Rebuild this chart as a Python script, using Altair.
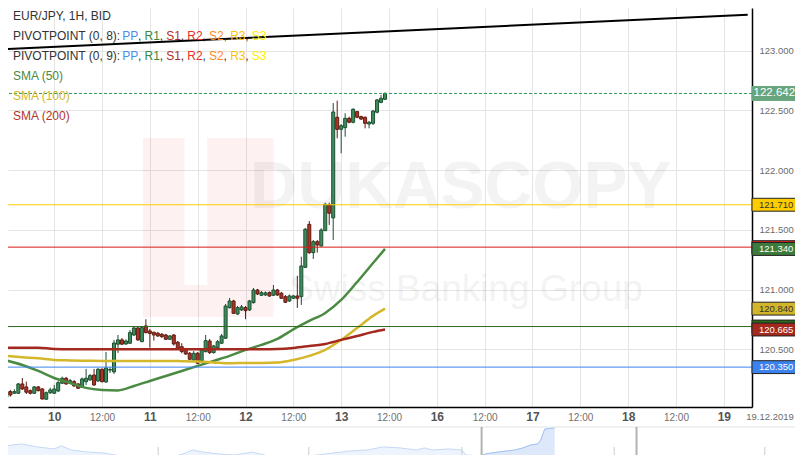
import altair as alt
import pandas as pd

FONT = "Liberation Sans, Arial, Helvetica, sans-serif"

# ---------------- texts / tick labels ----------------
SYMBOL = "EUR/JPY, 1H, BID"
PIVOT_SETS = ["PIVOTPOINT (0, 8): ", "PIVOTPOINT (0, 9): "]
PIVOT_NAMES = ["PP", "R1", "S1", "R2", "S2", "R3", "S3"]
SMA_NAMES = ["SMA (50)", "SMA (100)", "SMA (200)"]
DAY_LABELS = ["10", "11", "12", "13", "16", "17", "18", "19"]
HALF_DAY_LABEL = "12:00"
DATE_LABEL = "19.12.2019"
X_TICKS = list(range(12, 181, 12))          # hour index, 0 = 09.12 12:00
Y_TICKS = [120.5, 121.0, 121.5, 122.0, 122.5, 123.0]

# ---------------- hourly candles (09.12 12:00 .. 13.12 11:00) ----------------
OPEN = [120.098, 120.145, 120.131, 120.131, 120.209, 120.184, 120.153, 120.131, 120.184, 120.167,
        120.081, 120.136, 120.131, 120.150, 120.215, 120.257, 120.220, 120.228, 120.209, 120.181,
        120.228, 120.243, 120.284, 120.234, 120.332, 120.226, 120.325, 120.310, 120.542, 120.578,
        120.544, 120.550, 120.619, 120.678, 120.563, 120.695, 120.653, 120.642, 120.634, 120.625,
        120.619, 120.583, 120.619, 120.558, 120.521, 120.502, 120.466, 120.410, 120.466, 120.402,
        120.480, 120.569, 120.471, 120.513, 120.550, 120.592, 120.848, 120.904, 120.795, 120.829,
        120.848, 120.829, 120.890, 120.996, 120.952, 120.955, 120.974, 120.952, 120.996, 120.969,
        120.940, 120.904, 120.927, 120.946, 120.940, 121.186, 121.546, 121.309, 121.401, 121.365,
        121.493, 121.708, 121.600, 122.443, 122.342, 122.356, 122.434, 122.401, 122.490, 122.448,
        122.443, 122.386, 122.392, 122.485, 122.568, 122.593]
HIGH = [120.155, 120.159, 120.165, 120.217, 120.259, 120.228, 120.163, 120.192, 120.192, 120.175,
        120.146, 120.178, 120.201, 120.234, 120.270, 120.268, 120.251, 120.242, 120.217, 120.263,
        120.335, 120.293, 120.335, 120.343, 120.339, 120.477, 120.351, 120.578, 120.619, 120.594,
        120.582, 120.661, 120.695, 120.686, 120.695, 120.751, 120.670, 120.647, 120.645, 120.636,
        120.628, 120.619, 120.628, 120.569, 120.550, 120.511, 120.477, 120.485, 120.477, 120.502,
        120.619, 120.586, 120.536, 120.577, 120.628, 120.879, 120.929, 120.913, 120.862, 120.871,
        120.862, 120.913, 121.013, 121.005, 120.988, 120.984, 120.984, 121.038, 121.005, 120.980,
        120.954, 120.959, 120.954, 121.114, 121.275, 121.516, 121.574, 121.415, 121.415, 121.513,
        121.727, 121.727, 122.562, 122.582, 122.386, 122.476, 122.448, 122.518, 122.495, 122.456,
        122.448, 122.412, 122.504, 122.596, 122.629, 122.652]
LOW = [120.088, 120.103, 120.125, 120.125, 120.159, 120.125, 120.121, 120.125, 120.146, 120.079,
       120.075, 120.125, 120.125, 120.142, 120.209, 120.201, 120.209, 120.184, 120.167, 120.175,
       120.201, 120.234, 120.192, 120.226, 120.222, 120.217, 120.301, 120.293, 120.469, 120.536,
       120.536, 120.544, 120.611, 120.569, 120.561, 120.632, 120.513, 120.572, 120.603, 120.594,
       120.577, 120.577, 120.531, 120.502, 120.466, 120.452, 120.410, 120.402, 120.376, 120.393,
       120.473, 120.460, 120.464, 120.506, 120.544, 120.586, 120.841, 120.795, 120.787, 120.820,
       120.751, 120.820, 120.883, 120.954, 120.946, 120.946, 120.938, 120.946, 120.946, 120.921,
       120.887, 120.896, 120.921, 120.846, 120.871, 121.181, 121.298, 121.256, 121.309, 121.359,
       121.490, 121.541, 121.415, 122.267, 122.141, 122.280, 122.392, 122.392, 122.434, 122.420,
       122.350, 122.350, 122.378, 122.476, 122.560, 122.588]
CLOSE = [120.145, 120.117, 120.145, 120.209, 120.167, 120.140, 120.131, 120.184, 120.153, 120.083,
         120.136, 120.159, 120.167, 120.220, 120.257, 120.209, 120.237, 120.192, 120.173, 120.251,
         120.257, 120.279, 120.201, 120.332, 120.228, 120.343, 120.330, 120.552, 120.578, 120.542,
         120.569, 120.639, 120.678, 120.578, 120.681, 120.639, 120.632, 120.619, 120.611, 120.605,
         120.583, 120.611, 120.544, 120.508, 120.480, 120.460, 120.416, 120.466, 120.382, 120.494,
         120.572, 120.471, 120.527, 120.563, 120.611, 120.862, 120.904, 120.801, 120.848, 120.854,
         120.823, 120.904, 120.996, 120.963, 120.974, 120.972, 120.946, 120.996, 120.954, 120.927,
         120.893, 120.946, 120.946, 120.927, 121.197, 121.505, 121.309, 121.401, 121.373, 121.499,
         121.714, 121.639, 122.487, 122.342, 122.372, 122.434, 122.401, 122.510, 122.443, 122.428,
         122.392, 122.401, 122.495, 122.588, 122.602, 122.642]

# ---------------- moving averages (sampled) ----------------
SMA_IDX = [0, 4, 8, 12, 16, 20, 24, 28, 32, 36, 40, 44, 48, 52, 56, 60, 64, 68, 72, 76, 80, 84, 88, 92, 95]
SMA50 = [120.406, 120.368, 120.318, 120.259, 120.217, 120.176, 120.159, 120.155, 120.192, 120.234,
         120.276, 120.318, 120.360, 120.402, 120.444, 120.494, 120.536, 120.586, 120.666, 120.737,
         120.804, 120.913, 121.063, 121.222, 121.340]
SMA100 = [120.444, 120.433, 120.424, 120.410, 120.406, 120.404, 120.402, 120.402, 120.402, 120.402,
          120.402, 120.400, 120.397, 120.389, 120.382, 120.385, 120.385, 120.389, 120.410, 120.444,
          120.494, 120.578, 120.678, 120.779, 120.840]
SMA200 = [120.513, 120.513, 120.513, 120.502, 120.500, 120.500, 120.500, 120.500, 120.500, 120.500,
          120.500, 120.500, 120.500, 120.500, 120.500, 120.500, 120.500, 120.502, 120.511, 120.527,
          120.544, 120.578, 120.611, 120.645, 120.665]

# ---------------- levels ----------------
LEVEL_NAMES = ["R3", "R2", "R1", "PP"]
LEVEL_VALUES = [121.710, 121.355, 120.690, 120.350]
LAST_PRICE = 122.642
TREND_IDX = [0, 186]
TREND_PRICE = [123.014, 123.302]

# ---------------- watermark ----------------
WATERMARK_TEXT = ["DUKASCOPY", "Swiss Banking Group"]
WATERMARK_IDX = [114.0, 115.3]
WATERMARK_PRICE = [121.850, 120.996]
LOGO_IDX0 = [34.3, 50.4, 44.7]
LOGO_IDX1 = [44.7, 67.0, 50.4]
LOGO_P0 = [120.770, 120.770, 120.770]
LOGO_P1 = [122.269, 122.269, 121.038]

# ---------------- navigator (hours rel. to 09.12 12:00, price) ----------------
NAV_T = [-573, -553, -534, -514, -505, -493.5, -474.5, -454.4, -434.2, -415.3, -395.1, -386.8, -375,
         -356, -347.7, -335.8, -315.6, -296.7, -276.5, -256.4, -237.4, -217.3, -197.1, -178.1, -158,
         -137.8, -118.9, -98.7, -78.5, -69, -59.6, -39.4, -24, -19.3, -1.5, 4.4, 19.8, 40, 49.5, 59,
         67.3, 70.8, 75.6, 87.4]
NAV_P = [120.93, 121.12, 120.83, 120.64, 120.93, 120.54, 120.35, 120.26, 119.97, 119.88, 119.59,
         119.40, 119.78, 120.26, 120.54, 120.35, 120.16, 120.07, 120.35, 119.97, 119.78, 119.88,
         120.07, 120.26, 120.45, 120.54, 120.83, 120.74, 120.54, 120.74, 120.54, 120.64, 120.54,
         120.07, 119.97, 120.16, 120.35, 120.54, 120.74, 121.02, 121.12, 121.50, 122.54, 122.64]
NAV_WINDOW = [-0.32, 185.82]
NAV_TICKS = [-389, -208, -24, 159, 340]
NAV_SPAN = [-573, 379]
NAV_PRICE_RANGE = [118.93, 122.64]

# ---------------- scales & axes ----------------
X_DOMAIN = [1.66, 185.82]
Y_DOMAIN = [120.016, 123.358]
XS = alt.Scale(domain=X_DOMAIN, nice=False, zero=False)
YS = alt.Scale(domain=Y_DOMAIN, nice=False, zero=False)
PX_PER_H = 4.04            # main chart pixels per hour
PX_PER_P = 119.4           # main chart pixels per price unit

day_arr = "[" + ",".join("'%s'" % d for d in DAY_LABELS) + "]"
label_expr = "datum.value % 24 == 0 ? '" + HALF_DAY_LABEL + "' : " + day_arr + "[floor(datum.value / 24)]"
is_day = "datum.value % 24 == 12"

x_axis = alt.Axis(
    orient="bottom", values=X_TICKS, labelExpr=label_expr, title=None,
    grid=True, gridColor="#e4e4e4", gridWidth=1,
    domainColor="#000000", domainWidth=1.5, ticks=False,
    labelPadding=13, labelBaseline="alphabetic", labelFont=FONT,
    labelFontSize={"condition": {"test": is_day, "value": 12}, "value": 10},
    labelFontWeight={"condition": {"test": is_day, "value": "bold"}, "value": "normal"},
    labelColor={"condition": {"test": is_day, "value": "#555555"}, "value": "#707070"},
    labelFlush=False, labelOverlap=False,
)
y_axis = alt.Axis(
    orient="right", values=Y_TICKS, format=".3f", title=None,
    grid=True, gridColor="#e4e4e4", gridWidth=1,
    domainColor="#000000", domainWidth=1.5, ticks=False,
    labelPadding=7, labelFont=FONT, labelFontSize=9.5, labelColor="#6b6b6b",
    labelFlush=False, labelOverlap=False,
)


def X(field):
    return alt.X(field, scale=XS, axis=x_axis)


def Y(field):
    return alt.Y(field, scale=YS, axis=y_axis)


# helpers converting pixel offsets (from plot origin) into data units
def px_to_i(expr):
    return f"{X_DOMAIN[0]} + ({expr}) / {PX_PER_H}"


def py_to_p(expr):
    return f"{Y_DOMAIN[1]} - ({expr}) / {PX_PER_P}"


# ---------------- watermark ----------------
logo_df = pd.DataFrame({"a": LOGO_IDX0, "b": LOGO_IDX1, "p0": LOGO_P0, "p1": LOGO_P1})
logo = alt.Chart(logo_df).mark_rect(color="#e53935", opacity=0.07, clip=True).encode(
    x=X("a:Q"), x2="b:Q", y=Y("p0:Q"), y2="p1:Q")

wm_df = pd.DataFrame({"t": WATERMARK_TEXT, "i": WATERMARK_IDX, "p": WATERMARK_PRICE})
wm1 = alt.Chart(wm_df).transform_filter(alt.datum.t == WATERMARK_TEXT[0]).mark_text(
    font=FONT, fontSize=66, fontWeight="bold", color="#000000", opacity=0.045, baseline="middle"
).encode(x=X("i:Q"), y=Y("p:Q"), text="t:N")
wm2 = alt.Chart(wm_df).transform_filter(alt.datum.t == WATERMARK_TEXT[1]).mark_text(
    font=FONT, fontSize=37, color="#000000", opacity=0.045, baseline="middle"
).encode(x=X("i:Q"), y=Y("p:Q"), text="t:N")

# ---------------- candles ----------------
cdf = pd.DataFrame({"i": list(range(len(OPEN))), "open": OPEN, "high": HIGH, "low": LOW, "close": CLOSE})
up = alt.datum.close >= alt.datum.open
dark = alt.when(up).then(alt.value("#1d4f31")).otherwise(alt.value("#5e1b12"))
fill = alt.when(up).then(alt.value("#3f8d5c")).otherwise(alt.value("#ad3426"))

wicks = alt.Chart(cdf).mark_rule(strokeWidth=1, clip=True).encode(
    x=X("i:Q"), y=Y("low:Q"), y2="high:Q", color=dark)
bodies = alt.Chart(cdf).mark_bar(width=3, strokeWidth=1, clip=True).encode(
    x=X("i:Q"), y=Y("open:Q"), y2="close:Q", fill=fill, stroke=dark)


# ---------------- SMAs ----------------
def sma_layer(values, color):
    d = pd.DataFrame({"i": SMA_IDX, "v": values})
    return alt.Chart(d).mark_line(color=color, strokeWidth=2.5, interpolate="monotone", clip=True).encode(
        x=X("i:Q"), y=Y("v:Q"))


sma50 = sma_layer(SMA50, "#4b8a42")
sma100 = sma_layer(SMA100, "#d4b72a")
sma200 = sma_layer(SMA200, "#a3291e")

# ---------------- level lines ----------------
LEVEL_COLORS = ["#ffcc00", "#d81b16", "#2c6b1f", "#3d85f0"]
lv_df = pd.DataFrame({"name": LEVEL_NAMES, "v": LEVEL_VALUES})
levels = alt.Chart(lv_df).mark_rule(strokeWidth=1).encode(
    y=Y("v:Q"),
    color=alt.Color("name:N", scale=alt.Scale(domain=LEVEL_NAMES, range=LEVEL_COLORS), legend=None))
price_rule = alt.Chart(pd.DataFrame({"v": [LAST_PRICE]})).mark_rule(
    strokeWidth=1, strokeDash=[3, 2], color="#2f9e5c").encode(y=Y("v:Q"))

trend = alt.Chart(pd.DataFrame({"i": TREND_IDX, "p": TREND_PRICE})).mark_line(
    color="#000000", strokeWidth=2, clip=True).encode(x=X("i:Q"), y=Y("p:Q"))

# ---------------- legend (top-left) ----------------
W = {"P": 667, "I": 278, "V": 667, "O": 778, "T": 611, "N": 722, " ": 278, "(": 333, ")": 333,
     "0": 556, ",": 278, "8": 556, "9": 556, ":": 278, "R": 722, "S": 667, "1": 556, "2": 556, "3": 556}


def tw(s, size=12):
    return sum(W.get(c, 556) for c in s) * size / 1000.0


rows = [{"txt": SYMBOL, "key": "text", "px": 0.0, "py": 12.0}]
for k, prefix in enumerate(PIVOT_SETS):
    yy = 32.0 + 20 * k
    xx = 0.0
    rows.append({"txt": prefix, "key": "text", "px": xx, "py": yy})
    xx += tw(prefix)
    for j, nm in enumerate(PIVOT_NAMES):
        rows.append({"txt": nm, "key": nm, "px": xx, "py": yy})
        xx += tw(nm)
        if j < len(PIVOT_NAMES) - 1:
            rows.append({"txt": ",", "key": "text", "px": xx, "py": yy})
            xx += tw(", ")
for k, nm in enumerate(SMA_NAMES):
    rows.append({"txt": nm, "key": nm, "px": 0.0, "py": 72.0 + 20 * k})
leg_df = pd.DataFrame(rows)
LEG_KEYS = ["text"] + PIVOT_NAMES + SMA_NAMES
LEG_COLORS = ["#333333", "#4a8ef0", "#3a8a3a", "#b02e2a", "#e8302c", "#ff8c28", "#ffc400", "#ffee00",
              "#4b8a42", "#d4b72a", "#b0352b"]
legend = alt.Chart(leg_df).transform_calculate(
    li=px_to_i("datum.px"), lp=py_to_p("datum.py")
).mark_text(font=FONT, fontSize=12, align="left", baseline="alphabetic").encode(
    x=X("li:Q"), y=Y("lp:Q"), text="txt:N",
    color=alt.Color("key:N", scale=alt.Scale(domain=LEG_KEYS, range=LEG_COLORS), legend=None))

# ---------------- axis value boxes ----------------
BOX_KEYS = ["R3", "R2", "R1", "PP", "SMA50", "SMA100", "SMA200", "LAST"]
BOX_FILLS = ["#ffcc00", "#e0201b", "#2c6b1f", "#3b82ee", "#3c7b3c", "#d2b52b", "#a3291e", "#67a57e"]
BOX_TEXTC = ["#333333", "#ffffff", "#ffffff", "#ffffff", "#ffffff", "#333333", "#ffffff", "#ffffff"]


def box_layers(keys, values, half, size, tx, stroke, show_text):
    d = pd.DataFrame({"key": keys, "v": values})
    d["label"] = [f"{v:.3f}" for v in values]
    base = alt.Chart(d).transform_calculate(top=f"datum.v + {half}", bot=f"datum.v - {half}")
    rect = base.mark_rect(strokeWidth=1, stroke=stroke).encode(
        x=alt.value(744), x2=alt.value(800), y=Y("top:Q"), y2="bot:Q",
        fill=alt.Fill("key:N", scale=alt.Scale(domain=BOX_KEYS, range=BOX_FILLS), legend=None))
    txt = base.transform_filter(alt.FieldOneOfPredicate(field="key", oneOf=show_text)).mark_text(
        font=FONT, fontSize=size, align="left", baseline="middle").encode(
        x=alt.value(tx), y=Y("v:Q"), text="label:N",
        color=alt.Color("key:N", scale=alt.Scale(domain=BOX_KEYS, range=BOX_TEXTC), legend=None))
    return [rect, txt]


# R2 / R1 labels sit underneath the SMA labels, as in the reference
piv_boxes = box_layers(LEVEL_NAMES, LEVEL_VALUES, 0.054, 9.5, 751, "#222222", ["R3", "PP"])
sma_boxes = box_layers(["SMA50", "SMA100", "SMA200"], [SMA50[-1], SMA100[-1], SMA200[-1]], 0.054, 9.5,
                       751, "#222222", ["SMA50", "SMA100", "SMA200"])
last_boxes = box_layers(["LAST"], [LAST_PRICE], 0.058, 11.5, 745.5, "#67a57e", ["LAST"])

date_lbl = alt.Chart(pd.DataFrame({"t": [DATE_LABEL]})).mark_text(
    font=FONT, fontSize=9.5, color="#6b6b6b", align="center", baseline="alphabetic").encode(
    x=alt.value(762), y=alt.value(412), text="t:N")

# ---------------- navigator (mapped below the plot) ----------------
NAV_X0_PX, NAV_PX_PER_H = 475.0, 0.8435
NAV_Y0_PX, NAV_PX_PER_P = 420.0, 10.5


def nav_i(expr):
    return px_to_i(f"{NAV_X0_PX} + (({expr}) - ({NAV_WINDOW[0]})) * {NAV_PX_PER_H}")


def nav_p(expr):
    return py_to_p(f"{NAV_Y0_PX} + ({NAV_PRICE_RANGE[1]} - ({expr})) * {NAV_PX_PER_P}")


nav_df = pd.DataFrame({"t": NAV_T, "p": NAV_P})
nav_base = alt.Chart(nav_df).transform_calculate(
    ni=nav_i("datum.t"), np_=nav_p("datum.p"), nb=nav_p(str(NAV_PRICE_RANGE[0])))
sel = alt.datum.t >= NAV_WINDOW[0] - 1.5
nav_area = nav_base.mark_area(color="#eef4fd", clip=False).encode(x=X("ni:Q"), y=Y("np_:Q"), y2="nb:Q")
nav_line = nav_base.mark_line(color="#c6d9f6", strokeWidth=1, clip=False).encode(x=X("ni:Q"), y=Y("np_:Q"))
nav_area2 = nav_base.transform_filter(sel).mark_area(color="#dde8fb", clip=False).encode(
    x=X("ni:Q"), y=Y("np_:Q"), y2="nb:Q")
nav_line2 = nav_base.transform_filter(sel).mark_line(color="#a6c2f1", strokeWidth=1, clip=False).encode(
    x=X("ni:Q"), y=Y("np_:Q"))

nav_top = alt.Chart(pd.DataFrame({"a": [NAV_SPAN[0]], "b": [NAV_SPAN[1]]})).transform_calculate(
    ai=nav_i("datum.a"), bi=nav_i("datum.b"), yp=nav_p(str(NAV_PRICE_RANGE[1] + 0.095))
).mark_rule(color="#e3e3e3", strokeWidth=1, clip=False).encode(x=X("ai:Q"), x2="bi:Q", y=Y("yp:Q"))

nav_ticks = alt.Chart(pd.DataFrame({"t": NAV_TICKS})).transform_calculate(
    ti=nav_i("datum.t"), y0=nav_p("120.83"), y1=nav_p(str(NAV_PRICE_RANGE[0]))
).mark_rule(color="#cccccc", strokeWidth=1, clip=False).encode(x=X("ti:Q"), y=Y("y0:Q"), y2="y1:Q")

nav_handles = alt.Chart(pd.DataFrame({"t": NAV_WINDOW})).transform_calculate(
    ti=nav_i("datum.t"), y0=nav_p(str(NAV_PRICE_RANGE[1] + 0.095)), y1=nav_p(str(NAV_PRICE_RANGE[0]))
).mark_rule(color="#b3b3b3", strokeWidth=2, clip=False).encode(x=X("ti:Q"), y=Y("y0:Q"), y2="y1:Q")

chart = alt.layer(
    logo, wm1, wm2, wicks, bodies, sma50, sma100, sma200, levels, price_rule, trend, legend,
    *piv_boxes, *sma_boxes, *last_boxes, date_lbl,
    nav_area, nav_line, nav_area2, nav_line2, nav_top, nav_ticks, nav_handles,
).resolve_scale(
    color="independent", fill="independent"
).properties(
    width=744, height=399,
    autosize=alt.AutoSizeParams(type="none"),
    padding={"left": 0, "top": 0, "right": 43, "bottom": 48},
    background="white",
).configure_view(stroke=None)

chart.save("out.html", embed_options={"renderer": "svg", "actions": False})
